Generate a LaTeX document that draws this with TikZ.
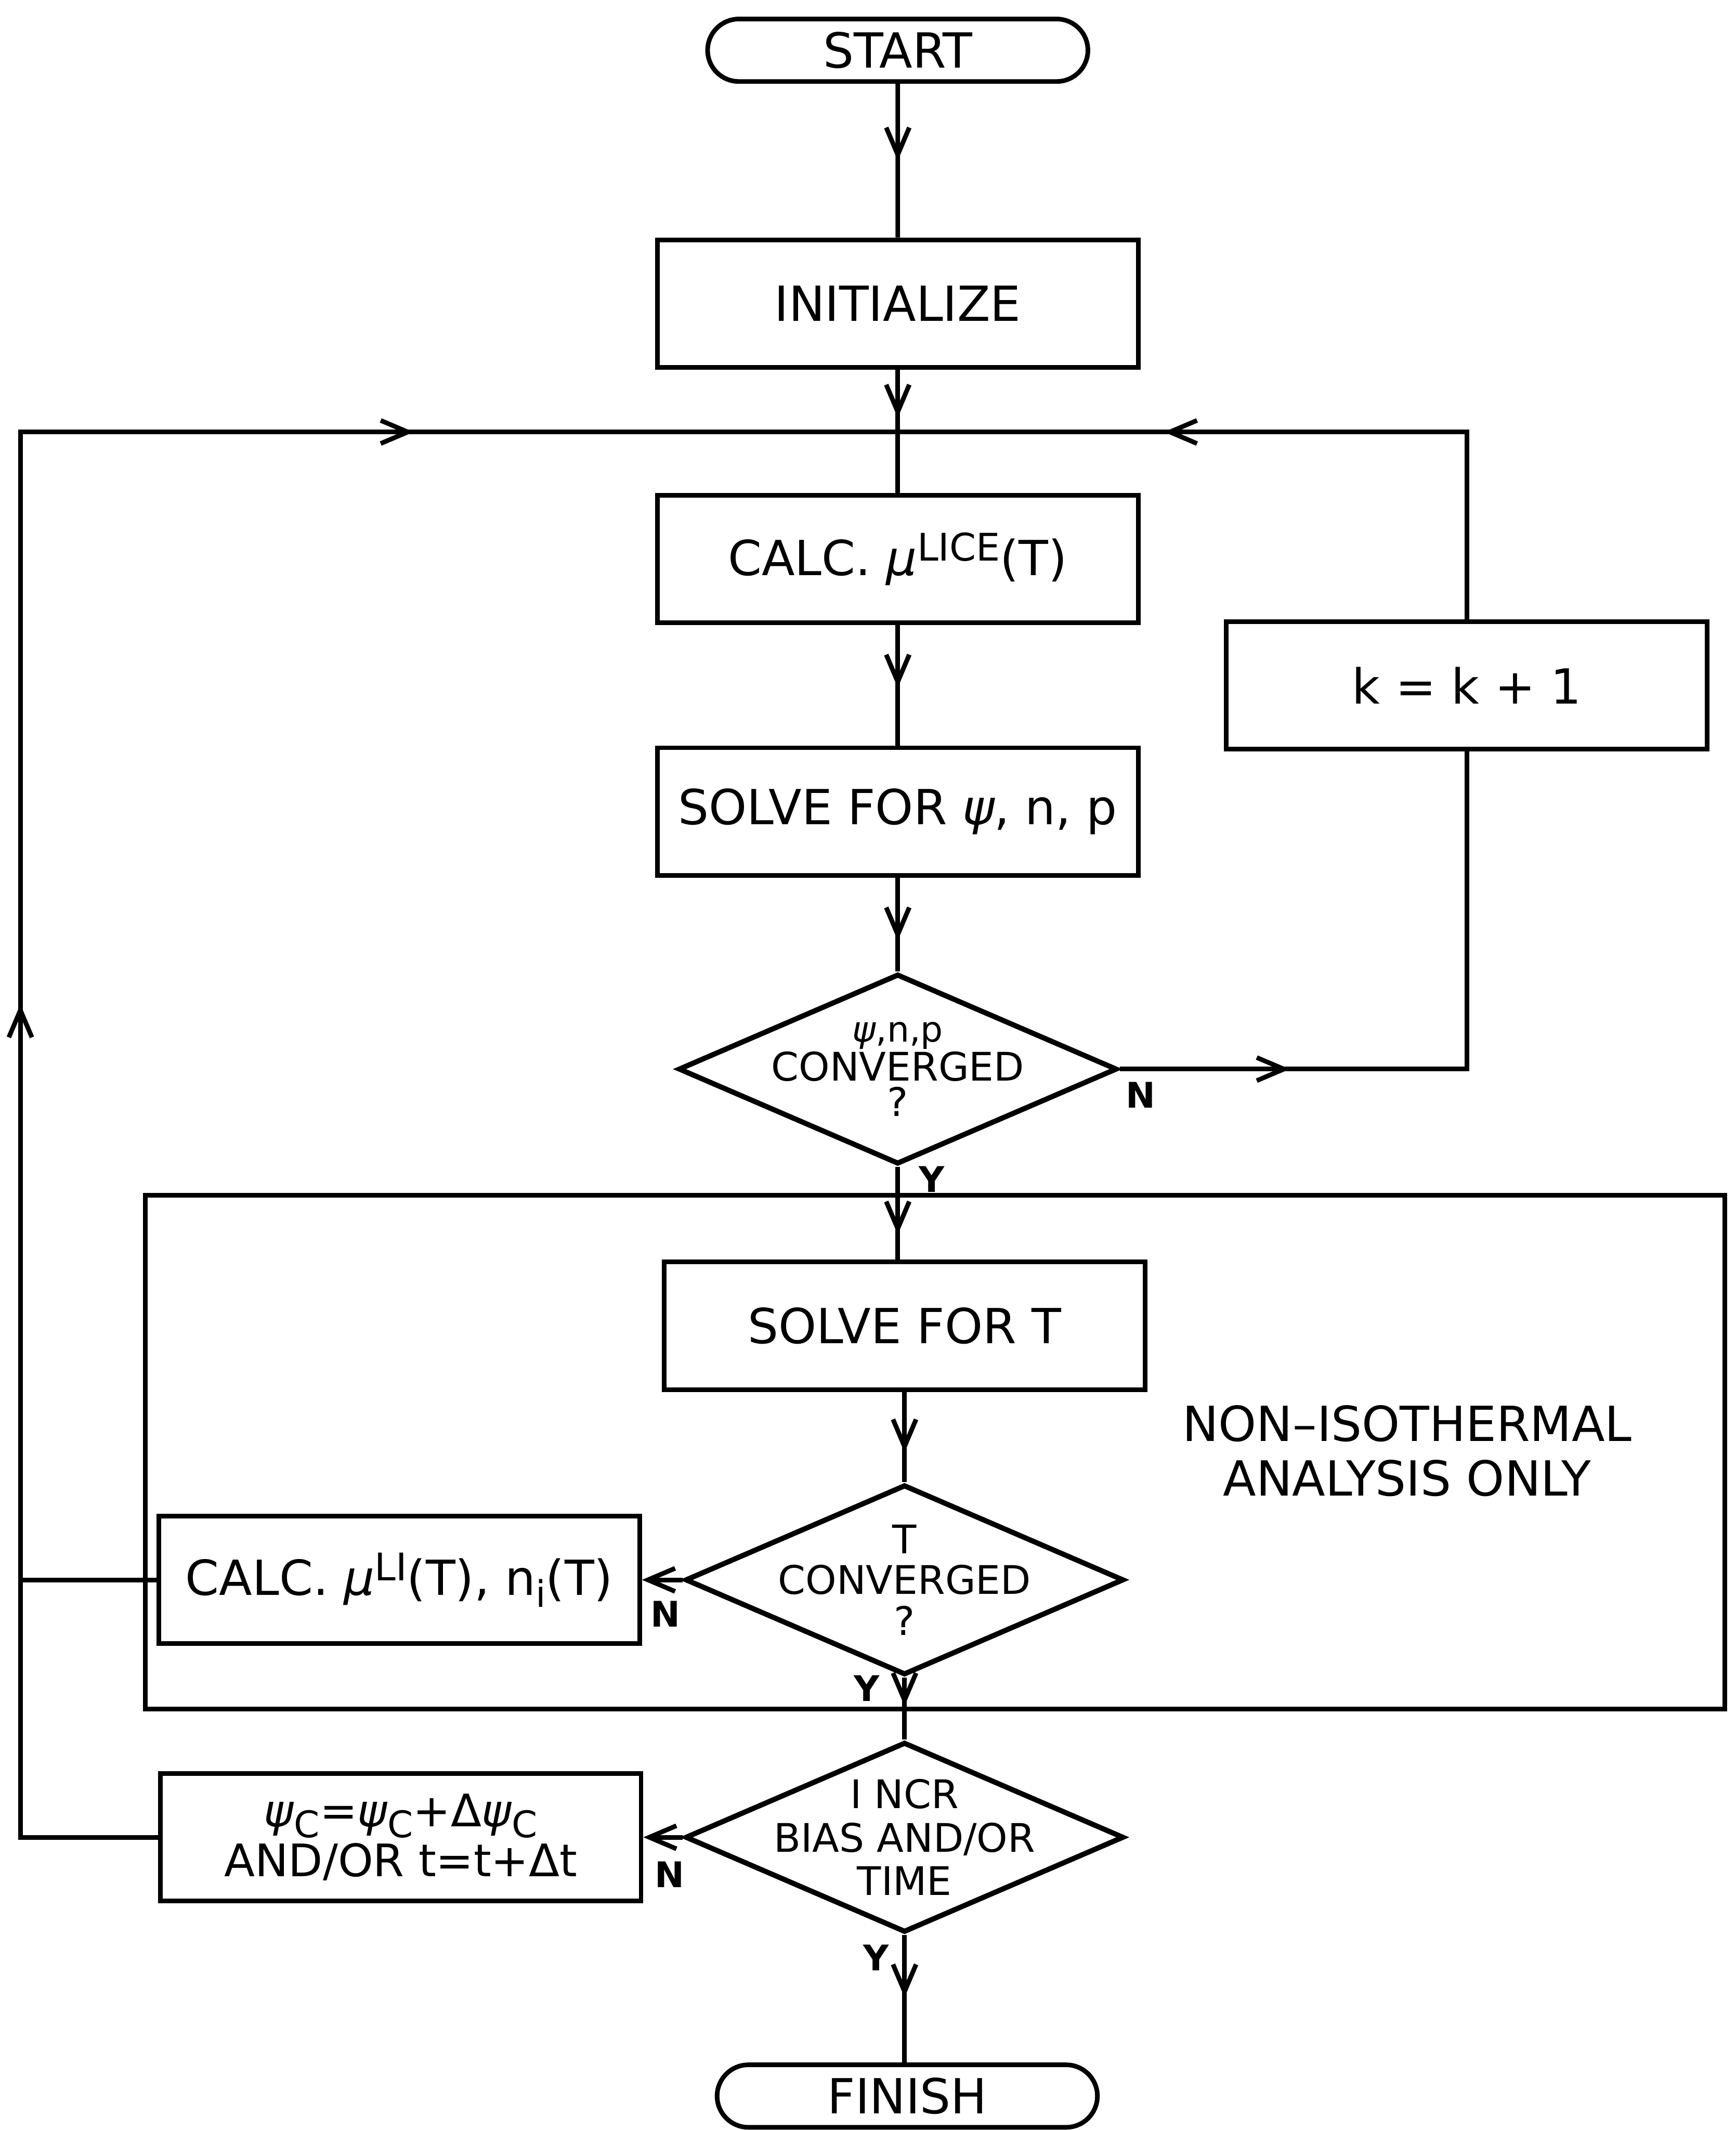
\documentclass[tikz,border=0pt]{standalone}
\usepackage{fontspec}
\setmainfont{DejaVu Sans}
\usetikzlibrary{shapes.geometric,shapes.misc,arrows.meta,decorations.markings}
\newcommand\mysup[1]{\raisebox{0.55ex}{\fontsize{14}{14}\selectfont #1}}
\newcommand\mysub[1]{\raisebox{-0.45ex}{\fontsize{13.5}{13.5}\selectfont #1}}
\begin{document}
\begin{tikzpicture}[x=0.5pt,y=-0.5pt, line width=1.7pt,
 box/.style={draw, rectangle, minimum width=177pt, minimum height=47pt, inner sep=0pt, font=\fontsize{17.8}{21}\selectfont},
 term/.style={draw, rounded rectangle, minimum width=140pt, minimum height=23pt, inner sep=0pt, font=\fontsize{17.8}{21}\selectfont},
 dec/.style={draw, diamond, minimum width=161.5pt, minimum height=70pt, inner sep=0pt, line width=1.9pt},
 dtext/.style={align=center, inner sep=0pt},
 yn/.style={font=\fontsize{13}{13}\selectfont\bfseries, inner sep=0pt},
 tip/.style={-{Straight Barb[length=10pt,width=8.5pt]}},
 marr/.style={postaction={decorate,decoration={markings,mark=at position #1 with {\arrow{Straight Barb[length=10pt,width=8.5pt]}}}}}
]
\useasboundingbox (0,0) rectangle (1278,1568);

% frame
\node[draw, rectangle, minimum width=581.5pt, minimum height=189pt, inner sep=0pt] (frame) at (688.5,1069) {};

% main column
\node[term] (start) at (661,37) {START};
\node[box] (init) at (661,223.5) {INITIALIZE};
\node[box] (calc1) at (661,411.5) {CALC. \textit{μ}\mysup{LICE}(T)};
\node[box] (solve) at (661,597.5) {SOLVE FOR \textit{ψ}, n, p};
\node[dec] (d1) at (661,787) {};
\node[dtext, font=\fontsize{14.5}{13}\selectfont] (d1t) at (d1.center) {{\fontsize{13}{13}\selectfont\textit{ψ},n,p}\\CONVERGED\\?};
\node[box] (k) at (1080,504.5) {k = k + 1};

\node[box] (st) at (666,976) {SOLVE FOR T};
\node[dec] (d2) at (666,1163) {};
\node[dtext, font=\fontsize{14.5}{15}\selectfont] (d2t) at (d2.center) {T\\CONVERGED\\?};
\node[box] (c2) at (294,1163) {CALC. \textit{μ}\mysup{LI}(T), n\mysub{i}(T)};
\node[align=center, font=\fontsize{17.8}{20}\selectfont, inner sep=0pt] (noniso) at (1036,1068) {NON--ISOTHERMAL\\ANALYSIS ONLY};

\node[dec] (d3) at (666,1352.5) {};
\node[dtext, font=\fontsize{14.5}{16}\selectfont] (d3t) at (d3.center) {I NCR\\BIAS AND/OR\\TIME};
\node[box, align=center, font=\fontsize{16.5}{18.5}\selectfont] (pc) at (295,1352.5) {\textit{ψ}\mysub{C}=\textit{ψ}\mysub{C}+Δ\textit{ψ}\mysub{C}\\AND/OR t=t+Δt};
\node[term] (fin) at (668,1543) {FINISH};

% labels
\node[yn] (n1) at (840,806) {N};
\node[yn] (y1) at (686,868) {Y};
\node[yn] (n2) at (490,1188) {N};
\node[yn] (y2) at (638,1243) {Y};
\node[yn] (n3) at (493,1380) {N};
\node[yn] (y3) at (645,1441) {Y};

% helper coordinates
\coordinate (j) at (661,318);
\coordinate (lft) at (15,318);

% connectors
\draw[marr=0.5] (start) -- (init);
\draw[marr=0.39] (init) -- (calc1);
\draw[marr=0.52] (calc1) -- (solve);
\draw[marr=0.67] (solve) -- (d1);
\draw[marr=0.256] (d1.east) -| (k.south);
\draw[marr=0.648] (k.north) |- (j);
\draw[marr=0.73] (d1.south) -- (d1.south |- st.north);
\draw[marr=0.67] (st) -- (d2);
\draw[tip] (d2.west) -- (c2.east);
\draw (c2.west) -- (c2.west -| lft);
\draw[marr=0.46] (d2.south) -- (d3.north);
\draw[tip] (d3.west) -- (pc.east);
\draw[marr=0.401, marr=0.80] (pc.west) -| (lft) -- (j);
\draw[marr=0.49] (d3.south) -- (d3.south |- fin.north);
\end{tikzpicture}
\end{document}
